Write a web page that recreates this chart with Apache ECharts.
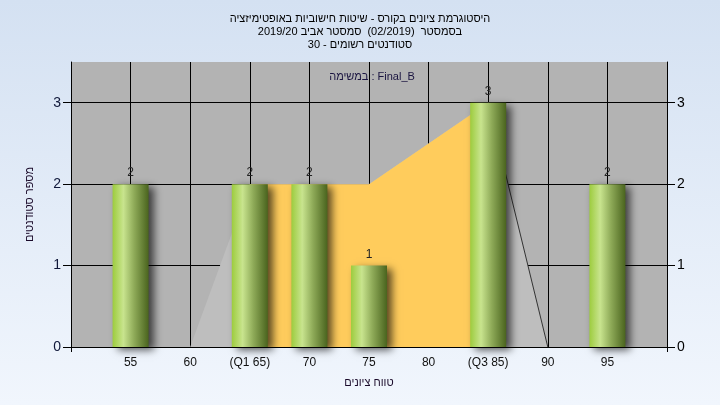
<!DOCTYPE html>
<html><head><meta charset="utf-8">
<script src="https://cdn.jsdelivr.net/npm/echarts@6/dist/echarts.min.js"></script>
<style>html,body{margin:0;padding:0;}#c{width:720px;height:405px;}</style>
</head><body><div id="c"></div>
<script>
const RLE='\u202B', PDF='\u202C';
const titleLines=['היסטוגרמת ציונים בקורס - שיטות חישוביות באופטימיזציה','בסמסטר  (02/2019)  סמסטר אביב 2019/20','סטודנטים רשומים - 30'];
const noteText='Final_B : במשימה';
const xAxisName='טווח ציונים';
const yAxisName='מספר סטודנטים';
const barX=[55,65,70,75,85,95];
const barY=[2,2,2,1,3,2];
const curveX=[60,65,70,75,85,90];
const curveY=[0,2,2,2,3,0];
const iqrX=[65,70,75,85];
const iqrY=[2,2,2,3];
const tailX=[85,90];
const tailY=[3,0];
const xLabels={55:'55',60:'60',65:'(Q1 65)',70:'70',75:'75',80:'80',85:'(Q3 85)',90:'90',95:'95'};
const yTicks=[0,1,2,3];

const font='"Liberation Sans", Arial, sans-serif';
const chart=echarts.init(document.getElementById('c'),null,{renderer:'canvas'});
const pairs=(xs,ys)=>xs.map((x,i)=>[x,ys[i]]);
const barGrad=new echarts.graphic.LinearGradient(0,0,1,0,[
 {offset:0,color:'#9dcc3e'},{offset:0.3,color:'#c8e48e'},{offset:0.6,color:'#8eaa58'},{offset:1,color:'#4a641e'}]);
chart.setOption({
 animation:false,
 backgroundColor:new echarts.graphic.LinearGradient(0,0,0,1,[{offset:0,color:'#d4e1f2'},{offset:1,color:'#f1f6fd'}]),
 title:[{text:titleLines.map(t=>RLE+t+PDF).join('\n'),left:'center',top:7,
   textStyle:{fontFamily:font,fontSize:11,fontWeight:'normal',color:'#000',lineHeight:13}},
  {text:RLE+noteText+PDF,left:367,top:66,textAlign:'center',textStyle:{fontFamily:font,fontSize:11,fontWeight:'normal',color:'#1a1440'}}],
 grid:{left:71,right:53,top:62,bottom:58,show:true,backgroundColor:'#b3b3b3',borderWidth:0},
 xAxis:[{type:'value',min:50,max:100,interval:5,
   name:RLE+xAxisName+PDF,nameLocation:'middle',nameGap:30,
   nameTextStyle:{fontFamily:font,fontSize:11,color:'#1a0a2a'},
   axisLine:{show:true,lineStyle:{color:'#000',width:1}},
   axisTick:{show:false},
   axisLabel:{fontFamily:font,fontSize:12,color:'#111',margin:10,
     formatter:v=>xLabels[v]||''},
   splitLine:{show:true,lineStyle:{color:'#000',width:1}}},
  {type:'value',min:50,max:100,interval:50,position:'bottom',
   axisLine:{show:false},axisTick:{show:true,length:5,lineStyle:{color:'#000'}},
   axisLabel:{show:false},splitLine:{show:false}}],
 yAxis:[{type:'value',min:0,max:3.5,interval:1,
   name:RLE+yAxisName+PDF,nameLocation:'middle',nameGap:36,nameRotate:90,
   nameTextStyle:{fontFamily:font,fontSize:11,color:'#1a0a2a'},
   axisLine:{show:true,lineStyle:{color:'#000'}},
   axisTick:{show:true,length:8,customValues:yTicks,lineStyle:{color:'#000'}},
   axisLabel:{fontFamily:font,fontSize:14,color:'#10183a',margin:10,customValues:yTicks},
   splitLine:{show:true,lineStyle:{color:['#000','#000','#000','#000','rgba(0,0,0,0)']}}},
  {type:'value',min:0,max:3.5,interval:1,position:'right',
   axisLine:{show:true,lineStyle:{color:'#000'}},
   axisTick:{show:true,length:8,customValues:yTicks,lineStyle:{color:'#000'}},
   axisLabel:{fontFamily:font,fontSize:14,color:'#000',margin:10,customValues:yTicks},
   splitLine:{show:false}}],
 series:[
  {type:'line',data:pairs(curveX,curveY),symbol:'none',lineStyle:{width:0},
   areaStyle:{color:'#bebebe',opacity:1},z:1},
  {type:'line',data:pairs(iqrX,iqrY),symbol:'none',lineStyle:{width:0},
   areaStyle:{color:'#ffcc5c',opacity:1},z:2},
  {type:'line',data:pairs(tailX,tailY),symbol:'none',lineStyle:{width:1,color:'#333'},z:3},
  {type:'bar',data:pairs(barX,barY),barWidth:36,z:4,
   itemStyle:{color:barGrad,shadowColor:'rgba(0,0,0,0.65)',shadowBlur:8,shadowOffsetX:5,shadowOffsetY:3},
   label:{show:true,position:'top',distance:5,fontFamily:font,fontSize:12,color:'#222'}}
 ]
});
</script></body></html>
